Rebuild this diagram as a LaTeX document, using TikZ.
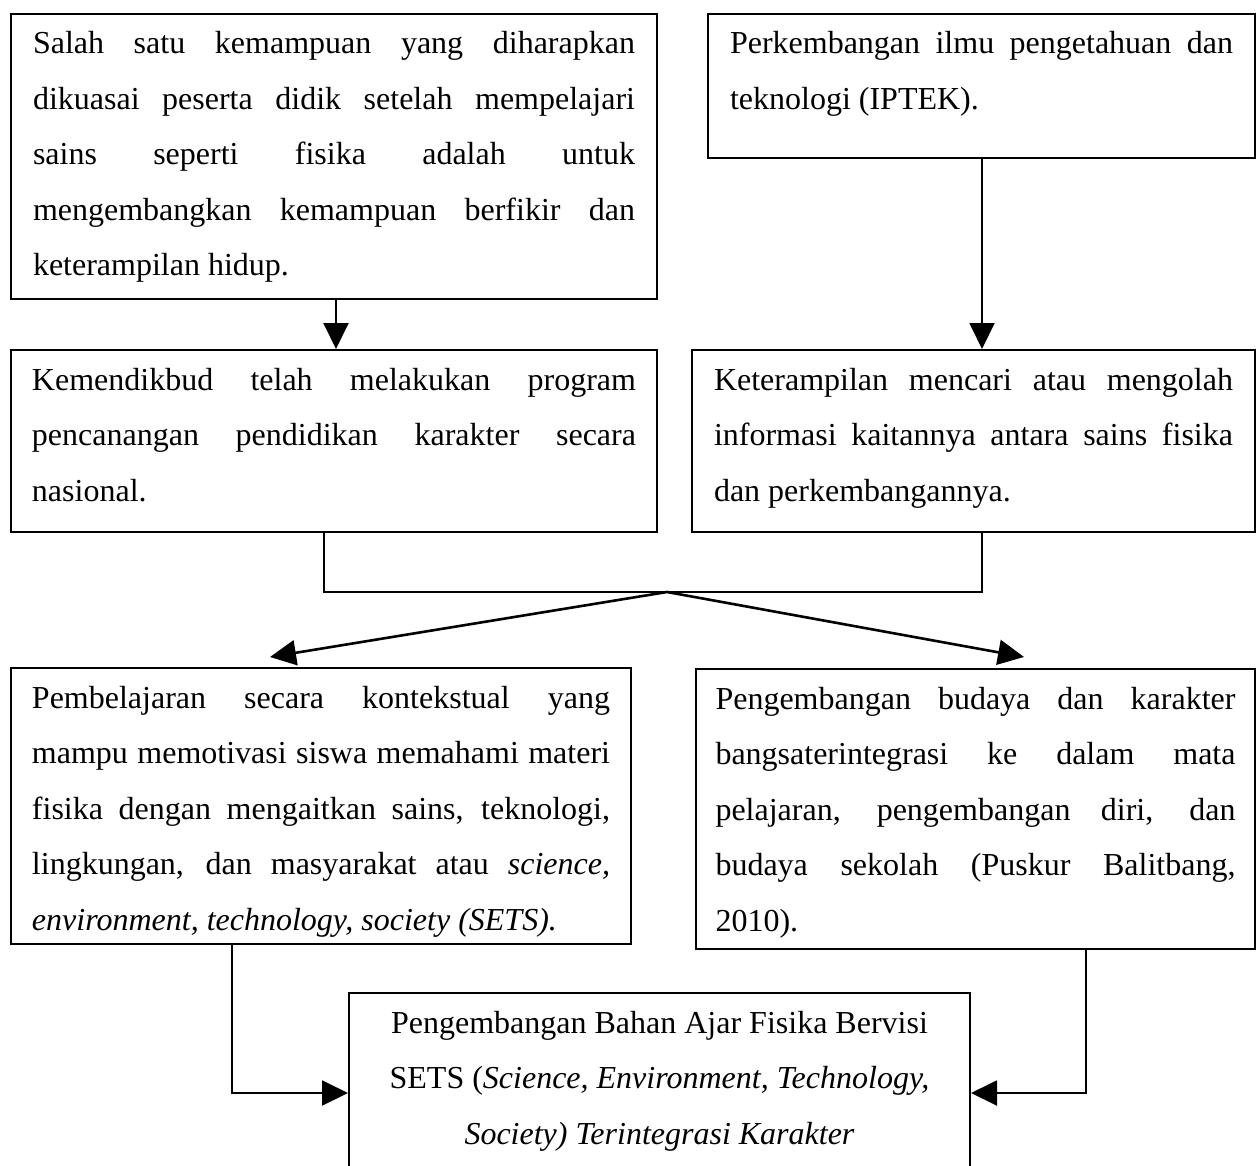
\documentclass[tikz,border=0pt]{standalone}
\usepackage{fontspec}
\setmainfont{Liberation Serif}
\usetikzlibrary{arrows.meta}
\newcommand\mystrut{\rule[-7.75pt]{0pt}{27.75pt}}
\newcommand\J[1]{\makebox[\linewidth][s]{\mystrut#1}\par}
\newcommand\Lst[1]{\makebox[\linewidth][l]{\mystrut#1}\par}
\newcommand\Ctr[1]{\makebox[\linewidth][c]{\mystrut#1}\par}
\newcommand\boxbody[3]{\begin{minipage}[t][#2][t]{#1}\fontsize{16}{27.75}\selectfont\parindent=0pt\parskip=0pt\relax #3\end{minipage}}
\begin{document}
\begin{tikzpicture}[x=0.5pt,y=-0.5pt,
  box/.style={draw,line width=1pt,inner sep=0pt,anchor=north west},
  conn/.style={line width=1pt},
  arr/.style={line width=1pt,-{Triangle[length=13pt,width=12.5pt]}},
  darr/.style={line width=1.3pt,-{Triangle[length=13pt,width=12.5pt]}}]
\useasboundingbox (0,0) rectangle (1257,1166);
\clip (0,0) rectangle (1257,1166);

\node[box,minimum width=323pt,minimum height=142.5pt] (b1) at (10,13) {\boxbody{301pt}{142.5pt}{%
\J{Salah satu kemampuan yang diharapkan}
\J{dikuasai peserta didik setelah mempelajari}
\J{sains seperti fisika adalah untuk}
\J{mengembangkan kemampuan berfikir dan}
\Lst{keterampilan hidup.}}};

\node[box,minimum width=273.5pt,minimum height=72pt] (b2) at (707,13) {\boxbody{251.5pt}{72pt}{%
\J{Perkembangan ilmu pengetahuan dan}
\Lst{teknologi (IPTEK).}}};

\node[box,minimum width=323pt,minimum height=91pt] (b3) at (10,349) {\boxbody{302pt}{91pt}{%
\J{Kemendikbud telah melakukan program}
\J{pencanangan pendidikan karakter secara}
\Lst{nasional.}}};

\node[box,minimum width=281.5pt,minimum height=91pt] (b4) at (691,349) {\boxbody{259.5pt}{91pt}{%
\J{Keterampilan mencari atau mengolah}
\J{informasi kaitannya antara sains fisika}
\Lst{dan perkembangannya.}}};

\node[box,minimum width=310pt,minimum height=138pt] (b5) at (10,667) {\boxbody{289pt}{138pt}{%
\J{Pembelajaran secara kontekstual yang}
\J{mampu memotivasi siswa memahami materi}
\J{fisika dengan mengaitkan sains, teknologi,}
\J{lingkungan, dan masyarakat atau \textit{science,}}
\Lst{\textit{environment, technology, society (SETS).}}}};

\node[box,minimum width=279.5pt,minimum height=140pt] (b6) at (695,668) {\boxbody{260pt}{140pt}{%
\J{Pengembangan budaya dan karakter}
\J{bangsaterintegrasi ke dalam mata}
\J{pelajaran, pengembangan diri, dan}
\J{budaya sekolah (Puskur Balitbang,}
\Lst{2010).}}};

\node[box,minimum width=310.5pt,minimum height=104pt] (b7) at (348,992) {\boxbody{300pt}{104pt}{%
\Ctr{Pengembangan Bahan Ajar Fisika Bervisi}
\Ctr{SETS (\textit{Science, Environment, Technology,}}
\Ctr{\textit{Society) Terintegrasi Karakter}}}};

\coordinate (a1) at (336,0);
\coordinate (a2) at (982,0);
\coordinate (jl) at (324,592);
\coordinate (jr) at (982,592);
\coordinate (j) at (667,592);
\coordinate (t5) at (270,657);
\coordinate (t6) at (1024,657);
\coordinate (xl) at (232,1093);
\coordinate (xr) at (1086,1093);

\draw[arr] (b1.south -| a1) -- (b3.north -| a1);
\draw[arr] (b2.south -| a2) -- (b4.north -| a2);
\draw[conn] (b3.south -| jl) -- (jl) -- (jr) -- (b4.south -| jr);
\draw[darr] (j) -- (t5);
\draw[darr] (j) -- (t6);
\draw[arr] (b5.south -| xl) -- (xl) -- (b7.west |- xl);
\draw[arr] (b6.south -| xr) -- (xr) -- (b7.east |- xr);
\end{tikzpicture}
\end{document}
